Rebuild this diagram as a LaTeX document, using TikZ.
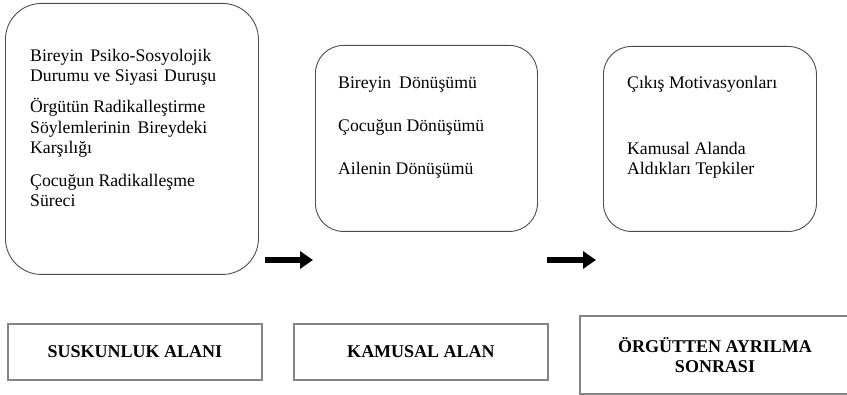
\documentclass[tikz,border=0pt]{standalone}
\usepackage{fontspec}
\setmainfont{Liberation Serif}
\usetikzlibrary{arrows.meta}
\tikzset{
  x=1pt, y=-1pt,
  roundbox/.style={draw=black!70, line width=0.9pt, rounded corners=#1, inner sep=0pt, anchor=north west},
  areabox/.style={draw=black!48, line width=2pt, inner sep=0pt, anchor=north west, align=center,
    font=\fontsize{18pt}{19.5pt}\selectfont\bfseries},
  itemtext/.style={anchor=base west, inner sep=0pt, font=\fontsize{17.7pt}{20pt}\selectfont},
  bigarrow/.style={line width=5.5pt, -{Triangle[length=13pt,width=17pt]}},
}
\begin{document}
\begin{tikzpicture}
\useasboundingbox (0,0) rectangle (847,395);
% top rounded boxes
\node[roundbox=36pt, minimum width=253pt, minimum height=271pt] (b1) at (5,3) {};
\node[roundbox=28pt, minimum width=222pt, minimum height=186pt] (b2) at (315,45) {};
\node[roundbox=28pt, minimum width=213pt, minimum height=185pt] (b3) at (603,46) {};
% texts box 1
\node[itemtext] (t1) at (30,62) {Bireyin\hspace{0.15em} Psiko-Sosyolojik};
\node[itemtext] (t2) at (30,82) {Durumu ve Siyasi\hspace{0.1em} Duruşu};
\node[itemtext] (t3) at (30,113) {Örgütün Radikalleştirme};
\node[itemtext] (t4) at (30,134) {Söylemlerinin\hspace{0.15em} Bireydeki};
\node[itemtext] (t5) at (30,154) {Karşılığı};
\node[itemtext] (t6) at (30,187) {Çocuğun Radikalleşme};
\node[itemtext] (t7) at (30,207) {Süreci};
% texts box 2
\node[itemtext] (t8) at (338,89) {Bireyin\hspace{0.2em} Dönüşümü};
\node[itemtext] (t9) at (338,132) {Çocuğun Dönüşümü};
\node[itemtext] (t10) at (338,175) {Ailenin Dönüşümü};
% texts box 3
\node[itemtext] (t11) at (627,89) {Çıkış Motivasyonları};
\node[itemtext] (t12) at (627,155) {Kamusal Alanda};
\node[itemtext] (t13) at (627,175) {Aldıkları Tepkiler};
% arrows
\coordinate (a1s) at (265,260);
\coordinate (a1e) at (313,260);
\coordinate (a2s) at (547,260);
\coordinate (a2e) at (596,260);
\draw[bigarrow] (a1s) -- (a1e);
\draw[bigarrow] (a2s) -- (a2e);
% bottom boxes
\node[areabox, minimum width=254pt, minimum height=56pt] (s1) at (7,323) {SUSKUNLUK ALANI};
\node[areabox, minimum width=254pt, minimum height=56pt] (s2) at (293,323) {KAMUSAL ALAN};
\node[areabox, minimum width=270pt, minimum height=78pt] (s3) at (579,315) {ÖRGÜTTEN AYRILMA\\SONRASI};
\end{tikzpicture}
\end{document}
